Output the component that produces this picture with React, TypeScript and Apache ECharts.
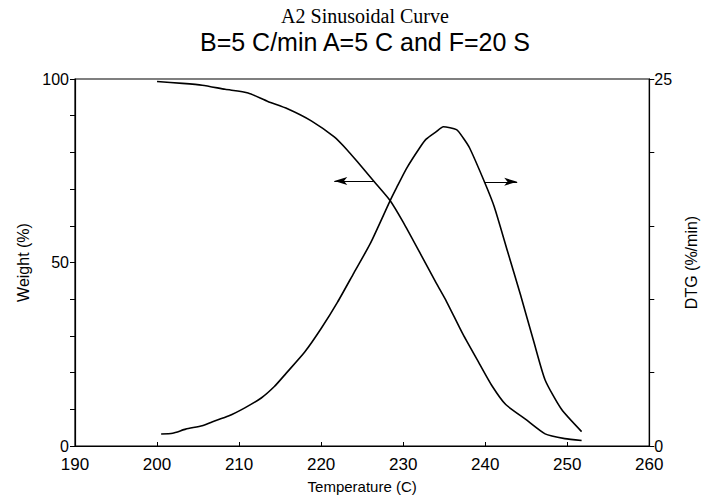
import React, { useEffect, useRef } from "react";
import * as echarts from "echarts";

const titleLine1 = "A2 Sinusoidal Curve";
const titleLine2 = "B=5 C/min A=5 C and F=20 S";
const xName = "Temperature (C)";
const yLeftName = "Weight (%)";
const yRightName = "DTG (%/min)";

const weightT = [200, 203.1, 205.5, 208.3, 211.1, 213.5, 215.9, 218.8, 221.6, 223.2, 224.4, 226.4, 228.4, 230, 232, 234, 235.3, 237.3, 239.3, 240.8, 242.5, 244.9, 247.3, 249.7, 251.75];
const weight = [99.3, 98.8, 98.3, 97.2, 96.2, 93.9, 91.9, 88.6, 84.2, 80.6, 77.5, 72.2, 66.9, 61.0, 52.8, 44.5, 39.3, 30.4, 22.4, 16.5, 11.3, 7.3, 3.3, 2.0, 1.5];

const dtgT = [200.5, 201.9, 203.5, 205.5, 206.7, 208.7, 210.7, 212.7, 214.3, 215.7, 218, 220, 222, 224, 226, 228.4, 229.2, 230.4, 232, 232.8, 234, 234.9, 236.5, 237.3, 238.1, 239.9, 241.1, 242.7, 244.3, 245.9, 247.3, 249.3, 251.75];
const dtg = [0.82, 0.87, 1.15, 1.38, 1.64, 2.04, 2.6, 3.27, 4.05, 4.93, 6.4, 8.0, 9.8, 11.8, 13.8, 16.7, 17.6, 18.9, 20.3, 20.9, 21.4, 21.75, 21.55, 21.0, 20.3, 18.0, 16.3, 13.3, 10.3, 7.15, 4.5, 2.5, 0.98];

// arrow annotations: [fromT, toT, value]
const leftArrow = [226.4, 221.6, 72.2];
const rightArrow = [239.9, 243.9, 18.0];

const FONT = "Liberation Sans";

export default function App() {
  const ref = useRef<HTMLDivElement>(null);
  useEffect(() => {
    if (!ref.current) return;
    const chart = echarts.init(ref.current, null, { renderer: "svg" });
    const axisLine = { show: true, lineStyle: { color: "#000", width: 1.2 } };
    const labelStyle = { color: "#000", fontFamily: FONT, fontSize: 16 };
    chart.setOption({
      animation: false,
      backgroundColor: "#fff",
      graphic: [
        {
          type: "text",
          x: 365,
          y: 6,
          style: { text: titleLine1, font: "20px 'Liberation Serif'", fill: "#000", textAlign: "center", textVerticalAlign: "top" },
        },
        {
          type: "text",
          x: 365,
          y: 29,
          style: { text: titleLine2, font: "25px 'Liberation Sans'", fill: "#000", textAlign: "center", textVerticalAlign: "top" },
        },
      ],
      grid: { left: 75, right: 52, top: 79, bottom: 45, show: true, borderColor: "#000", borderWidth: 1.2, backgroundColor: "transparent" },
      xAxis: {
        type: "value",
        min: 190,
        max: 260,
        interval: 10,
        name: xName,
        nameLocation: "middle",
        nameGap: 33,
        nameTextStyle: { color: "#000", fontFamily: FONT, fontSize: 15 },
        axisLine,
        axisTick: { show: true, inside: true, length: 4, lineStyle: { color: "#000" } },
        axisLabel: { ...labelStyle, fontSize: 17, margin: 10 },
        splitLine: { show: false },
      },
      yAxis: [
        {
          type: "value",
          min: 0,
          max: 100,
          interval: 10,
          name: yLeftName,
          nameLocation: "middle",
          nameGap: 44,
          nameRotate: 90,
          nameTextStyle: { color: "#000", fontFamily: FONT, fontSize: 16 },
          axisLine,
          axisTick: { show: true, length: 5, lineStyle: { color: "#000" } },
          axisLabel: { ...labelStyle, margin: 6, formatter: (v: number) => (v % 50 === 0 ? String(v) : "") },
          splitLine: { show: false },
        },
        {
          type: "value",
          min: 0,
          max: 25,
          interval: 5,
          position: "right",
          name: yRightName,
          nameLocation: "middle",
          nameGap: 26,
          nameRotate: 90,
          nameTextStyle: { color: "#000", fontFamily: FONT, fontSize: 16 },
          axisLine,
          axisTick: { show: true, length: 5, lineStyle: { color: "#000" } },
          axisLabel: { ...labelStyle, margin: 5, formatter: (v: number) => (v === 0 || v === 25 ? String(v) : "") },
          splitLine: { show: false },
        },
      ],
      series: [
        {
          type: "line",
          yAxisIndex: 0,
          data: weightT.map((t, i) => [t, weight[i]]),
          showSymbol: false,
          symbol: "none",
          smooth: 0.2,
          lineStyle: { color: "#000", width: 1.6 },
          markLine: {
            silent: true,
            symbol: ["none", "arrow"],
            symbolSize: [6, 13],
            label: { show: false },
            lineStyle: { color: "#000", width: 1, type: "solid" },
            data: [[{ coord: [leftArrow[0], leftArrow[2]] }, { coord: [leftArrow[1], leftArrow[2]] }]],
          },
        },
        {
          type: "line",
          yAxisIndex: 1,
          data: dtgT.map((t, i) => [t, dtg[i]]),
          showSymbol: false,
          symbol: "none",
          smooth: 0.2,
          lineStyle: { color: "#000", width: 1.6 },
          markLine: {
            silent: true,
            symbol: ["none", "arrow"],
            symbolSize: [6, 13],
            label: { show: false },
            lineStyle: { color: "#000", width: 1, type: "solid" },
            data: [[{ coord: [rightArrow[0], rightArrow[2]] }, { coord: [rightArrow[1], rightArrow[2]] }]],
          },
        },
      ],
    });
    return () => chart.dispose();
  }, []);
  return <div ref={ref} style={{ position: "absolute", left: 0, top: 0, width: 707, height: 499 }} />;
}
